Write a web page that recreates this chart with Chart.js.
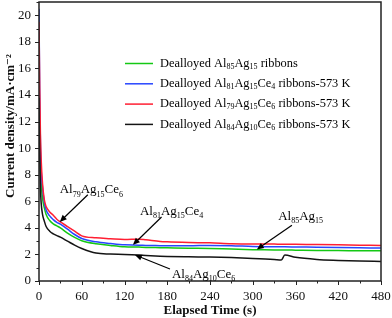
<!DOCTYPE html>
<html>
<head>
<meta charset="utf-8">
<script src="https://cdn.jsdelivr.net/npm/chart.js@4.4.0/dist/chart.umd.min.js"></script>
<style>
  html, body { margin: 0; padding: 0; background: #fff; }
  #wrap { width: 392px; height: 318px; }
</style>
</head>
<body>
<div id="wrap"><canvas id="myChart" width="392" height="318"></canvas></div>
<script>
// elapsed time (s)
const times = [0, 1, 2, 3, 5, 7.5, 10, 15, 20, 25, 30, 40, 50, 60, 80, 100, 120, 140, 150, 170, 180, 210, 240, 270, 300, 330, 340, 345, 360, 390, 420, 450, 480];

// current density (mA/cm2)
const al85 = [12, 10, 8.5, 7.4, 6.2, 5.5, 5.0, 4.55, 4.3, 4.15, 4.0, 3.6, 3.28, 3.03, 2.8, 2.68, 2.58, 2.55, 2.53, 2.51, 2.5, 2.47, 2.45, 2.4, 2.36, 2.34, 2.33, 2.33, 2.32, 2.3, 2.29, 2.28, 2.27];
const al81 = [20.5, 14, 10.3, 8.4, 7.0, 5.9, 5.35, 4.9, 4.62, 4.42, 4.28, 3.9, 3.5, 3.2, 2.95, 2.82, 2.72, 2.7, 2.68, 2.66, 2.65, 2.65, 2.68, 2.66, 2.6, 2.58, 2.57, 2.57, 2.56, 2.54, 2.52, 2.5, 2.48];
const al79 = [19.5, 14.5, 11, 9.2, 7.3, 6.1, 5.6, 5.2, 4.95, 4.65, 4.45, 4.1, 3.75, 3.4, 3.25, 3.18, 3.12, 3.15, 3.1, 2.98, 2.95, 2.9, 2.87, 2.8, 2.78, 2.78, 2.77, 2.77, 2.76, 2.74, 2.72, 2.7, 2.68];
const al84 = [13.8, 9.5, 7.0, 5.9, 5.0, 4.5, 4.1, 3.75, 3.55, 3.42, 3.3, 3.0, 2.7, 2.45, 2.1, 2.03, 2.0, 1.95, 1.92, 1.87, 1.85, 1.82, 1.8, 1.76, 1.7, 1.62, 1.58, 1.95, 1.78, 1.62, 1.55, 1.5, 1.47];

const xTicks = [0, 60, 120, 180, 240, 300, 360, 420, 480];
const yTicks = [0, 2, 4, 6, 8, 10, 12, 14, 16, 18, 20];
const yTitle = 'Current density/mA·cm⁻²';

// legend rows: [text, isSubscript]
const legendRows = [
    [['Dealloyed Al', 0], ['85', 1], ['Ag', 0], ['15', 1], [' ribbons', 0]],
    [['Dealloyed Al', 0], ['81', 1], ['Ag', 0], ['15', 1], ['Ce', 0], ['4', 1], [' ribbons-573 K', 0]],
    [['Dealloyed Al', 0], ['79', 1], ['Ag', 0], ['15', 1], ['Ce', 0], ['6', 1], [' ribbons-573 K', 0]],
    [['Dealloyed Al', 0], ['84', 1], ['Ag', 0], ['10', 1], ['Ce', 0], ['6', 1], [' ribbons-573 K', 0]]
];

// labels on the curves, in data units: label pos, arrow start, arrow tip
const notes = [
    { parts: [['Al', 0], ['79', 1], ['Ag', 0], ['15', 1], ['Ce', 0], ['6', 1]], at: [29, 6.6], from: [68.5, 6.49], to: [29.1, 4.45] },
    { parts: [['Al', 0], ['81', 1], ['Ag', 0], ['15', 1], ['Ce', 0], ['4', 1]], at: [141.6, 5.0], from: [172, 4.82], to: [131.8, 2.72] },
    { parts: [['Al', 0], ['84', 1], ['Ag', 0], ['10', 1], ['Ce', 0], ['6', 1]], at: [186.6, 0.22], from: [183.8, 0.9], to: [134.6, 1.96] },
    { parts: [['Al', 0], ['85', 1], ['Ag', 0], ['15', 1]], at: [335.7, 4.58], from: [355, 4.2], to: [305.7, 2.38] }
];

const colors = ['rgb(20,200,20)', 'rgb(40,70,255)', 'rgb(255,30,50)', 'rgb(20,20,20)'];
const serif = '"Liberation Serif", "DejaVu Serif", serif';

function pts(vals) {
    return times.map((t, i) => ({ x: t, y: vals[i] }));
}

function drawRich(ctx, parts, x, y, size) {
    let cx = x;
    parts.forEach(p => {
        if (p[1]) {
            ctx.font = Math.round(size * 0.65) + 'px ' + serif;
            ctx.fillText(p[0], cx, y + size * 0.25);
        } else {
            ctx.font = size + 'px ' + serif;
            ctx.fillText(p[0], cx, y);
        }
        cx += ctx.measureText(p[0]).width;
    });
}

function arrow(ctx, x1, y1, x2, y2) {
    const a = Math.atan2(y2 - y1, x2 - x1);
    const len = 7, w = 3;
    ctx.beginPath();
    ctx.moveTo(x1, y1);
    ctx.lineTo(x2 - Math.cos(a) * len * 0.8, y2 - Math.sin(a) * len * 0.8);
    ctx.stroke();
    ctx.beginPath();
    ctx.moveTo(x2, y2);
    ctx.lineTo(x2 - Math.cos(a) * len + Math.sin(a) * w, y2 - Math.sin(a) * len - Math.cos(a) * w);
    ctx.lineTo(x2 - Math.cos(a) * len - Math.sin(a) * w, y2 - Math.sin(a) * len + Math.cos(a) * w);
    ctx.closePath();
    ctx.fill();
}

const extras = {
    id: 'extras',
    afterDraw(chart) {
        const ctx = chart.ctx;
        const a = chart.chartArea;
        const xs = chart.scales.x, ys = chart.scales.y;
        ctx.save();
        // frame
        ctx.strokeStyle = '#222';
        ctx.lineWidth = 1.5;
        ctx.strokeRect(a.left, a.top, a.right - a.left, a.bottom - a.top);
        // ticks
        ctx.lineWidth = 1;
        ctx.beginPath();
        for (let v = 0; v <= 21; v++) {
            const y = Math.round(ys.getPixelForValue(v)) + 0.5;
            const len = v % 2 === 0 ? 4 : 2.5;
            ctx.moveTo(a.left - len, y);
            ctx.lineTo(a.left, y);
        }
        for (let t = 0; t <= 480; t += 30) {
            const x = Math.round(xs.getPixelForValue(t)) + 0.5;
            const len = t % 60 === 0 ? 4 : 2.5;
            ctx.moveTo(x, a.bottom);
            ctx.lineTo(x, a.bottom + len);
        }
        ctx.stroke();

        // y title, sits a bit above the plot centre as in the original
        ctx.save();
        ctx.translate(10.5, 126);
        ctx.rotate(-Math.PI / 2);
        ctx.font = 'bold 13px ' + serif;
        ctx.fillStyle = '#111';
        ctx.textAlign = 'center';
        ctx.textBaseline = 'middle';
        ctx.fillText(yTitle, 0, 0);
        ctx.restore();

        // legend
        ctx.fillStyle = '#000';
        ctx.textBaseline = 'middle';
        legendRows.forEach((row, i) => {
            const y = 63.5 + i * 20.3;
            ctx.strokeStyle = colors[i];
            ctx.lineWidth = 1.5;
            ctx.beginPath();
            ctx.moveTo(125, y);
            ctx.lineTo(153, y);
            ctx.stroke();
            drawRich(ctx, row, 160, y, 12.4);
        });

        // curve labels
        ctx.textBaseline = 'alphabetic';
        ctx.strokeStyle = '#000';
        ctx.fillStyle = '#000';
        ctx.lineWidth = 1.2;
        notes.forEach(n => {
            drawRich(ctx, n.parts, xs.getPixelForValue(n.at[0]), ys.getPixelForValue(n.at[1]), 13);
            arrow(ctx, xs.getPixelForValue(n.from[0]), ys.getPixelForValue(n.from[1]),
                xs.getPixelForValue(n.to[0]), ys.getPixelForValue(n.to[1]));
        });
        ctx.restore();
    }
};

const names = ['Dealloyed Al85Ag15 ribbons', 'Dealloyed Al81Ag15Ce4 ribbons-573 K', 'Dealloyed Al79Ag15Ce6 ribbons-573 K', 'Dealloyed Al84Ag10Ce6 ribbons-573 K'];
const series = [al85, al81, al79, al84];

const ctx = document.getElementById('myChart');
new Chart(ctx, {
    type: 'line',
    data: {
        datasets: series.map((s, i) => ({
            label: names[i],
            data: pts(s),
            borderColor: colors[i],
            borderWidth: 1.5,
            pointRadius: 0,
            fill: false,
            cubicInterpolationMode: 'monotone'
        })).reverse()
    },
    options: {
        responsive: false,
        animation: false,
        layout: { padding: { top: 2, right: 11, left: 0, bottom: 0 } },
        plugins: { legend: { display: false }, tooltip: { enabled: false } },
        scales: {
            x: {
                type: 'linear',
                min: 0,
                max: 480,
                afterBuildTicks: s => { s.ticks = xTicks.map(v => ({ value: v })); },
                afterFit: s => { s.height = 37; s.paddingLeft = 0; s.paddingRight = 0; },
                grid: { display: false, drawTicks: false },
                border: { display: false },
                ticks: { color: '#111', padding: 8, maxRotation: 0, font: { family: serif, size: 13 } },
                title: { display: true, text: 'Elapsed Time (s)', color: '#111', padding: { top: 0, bottom: 0 }, font: { family: serif, size: 13, weight: 'bold' } }
            },
            y: {
                min: 0,
                max: 21,
                afterBuildTicks: s => { s.ticks = yTicks.map(v => ({ value: v })); },
                afterFit: s => { s.width = 39; s.paddingTop = 0; s.paddingBottom = 0; },
                grid: { display: false, drawTicks: false },
                border: { display: false },
                ticks: { color: '#111', padding: 8, font: { family: serif, size: 13 } }
            }
        }
    },
    plugins: [extras]
});
</script>
</body>
</html>
